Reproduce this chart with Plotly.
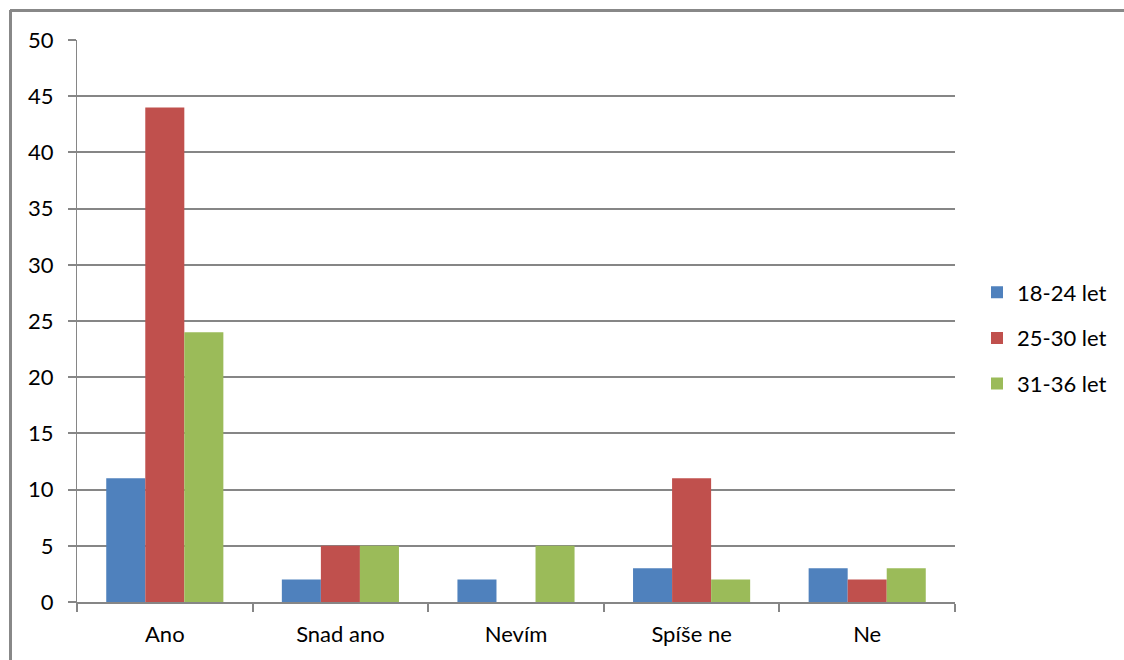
import plotly.graph_objects as go

categories = ["Ano", "Snad ano", "Nevím", "Spíše ne", "Ne"]
series_names = ["18-24 let", "25-30 let", "31-36 let"]
v_18_24 = [11, 2, 2, 3, 3]
v_25_30 = [44, 5, 0, 11, 2]
v_31_36 = [24, 5, 5, 2, 3]
y_ticks = [0, 5, 10, 15, 20, 25, 30, 35, 40, 45, 50]

colors = ["#4F81BD", "#C0504D", "#9BBB59"]
values = [v_18_24, v_25_30, v_31_36]

W, H = 1124, 660
L, R, T, B = 77, 169, 40, 58
pw, ph = W - L - R, H - T - B

fig = go.Figure()
for i, (name, vals) in enumerate(zip(series_names, values)):
    fig.add_trace(go.Bar(x=categories, y=vals, name=name, marker_color=colors[i],
                         marker_line_width=0, legendgroup=name))

FONT = "Lato"
fig.update_layout(
    width=W, height=H,
    margin=dict(l=L, r=R, t=T, b=B, pad=0),
    paper_bgcolor="white", plot_bgcolor="white",
    barmode="group", bargap=0.333, bargroupgap=0,
    font=dict(family=FONT, size=22, color="black"),
    showlegend=True,
    legend=dict(x=(977 - L) / pw, xanchor="left", y=(602 - 338) / ph, yanchor="middle",
                tracegroupgap=14, font=dict(size=22), bgcolor="rgba(0,0,0,0)"),
    xaxis=dict(showline=True, linecolor="#868686", linewidth=2, ticks="outside",
               tickson="boundaries", ticklen=8, tickcolor="#868686", tickwidth=2,
               showgrid=False, ticklabelstandoff=12),
    yaxis=dict(range=[0, 50], tickvals=y_ticks, showline=True, linecolor="#868686",
               linewidth=1, showgrid=True, gridcolor="#868686", gridwidth=2,
               ticks="outside", ticklen=8, tickcolor="#868686", tickwidth=2,
               zeroline=False, ticklabelstandoff=10),
)

def px_x(p):
    return (p - L) / pw

def px_y(p):
    return (H - B - p) / ph

fig.add_shape(type="line", xref="paper", yref="paper", x0=px_x(10), x1=px_x(W + 5),
              y0=px_y(10.5), y1=px_y(10.5), line=dict(color="#888888", width=3))
fig.add_shape(type="line", xref="paper", yref="paper", x0=px_x(10.5), x1=px_x(10.5),
              y0=px_y(10), y1=px_y(H + 5), line=dict(color="#888888", width=3))

fig.write_html("out.html")
